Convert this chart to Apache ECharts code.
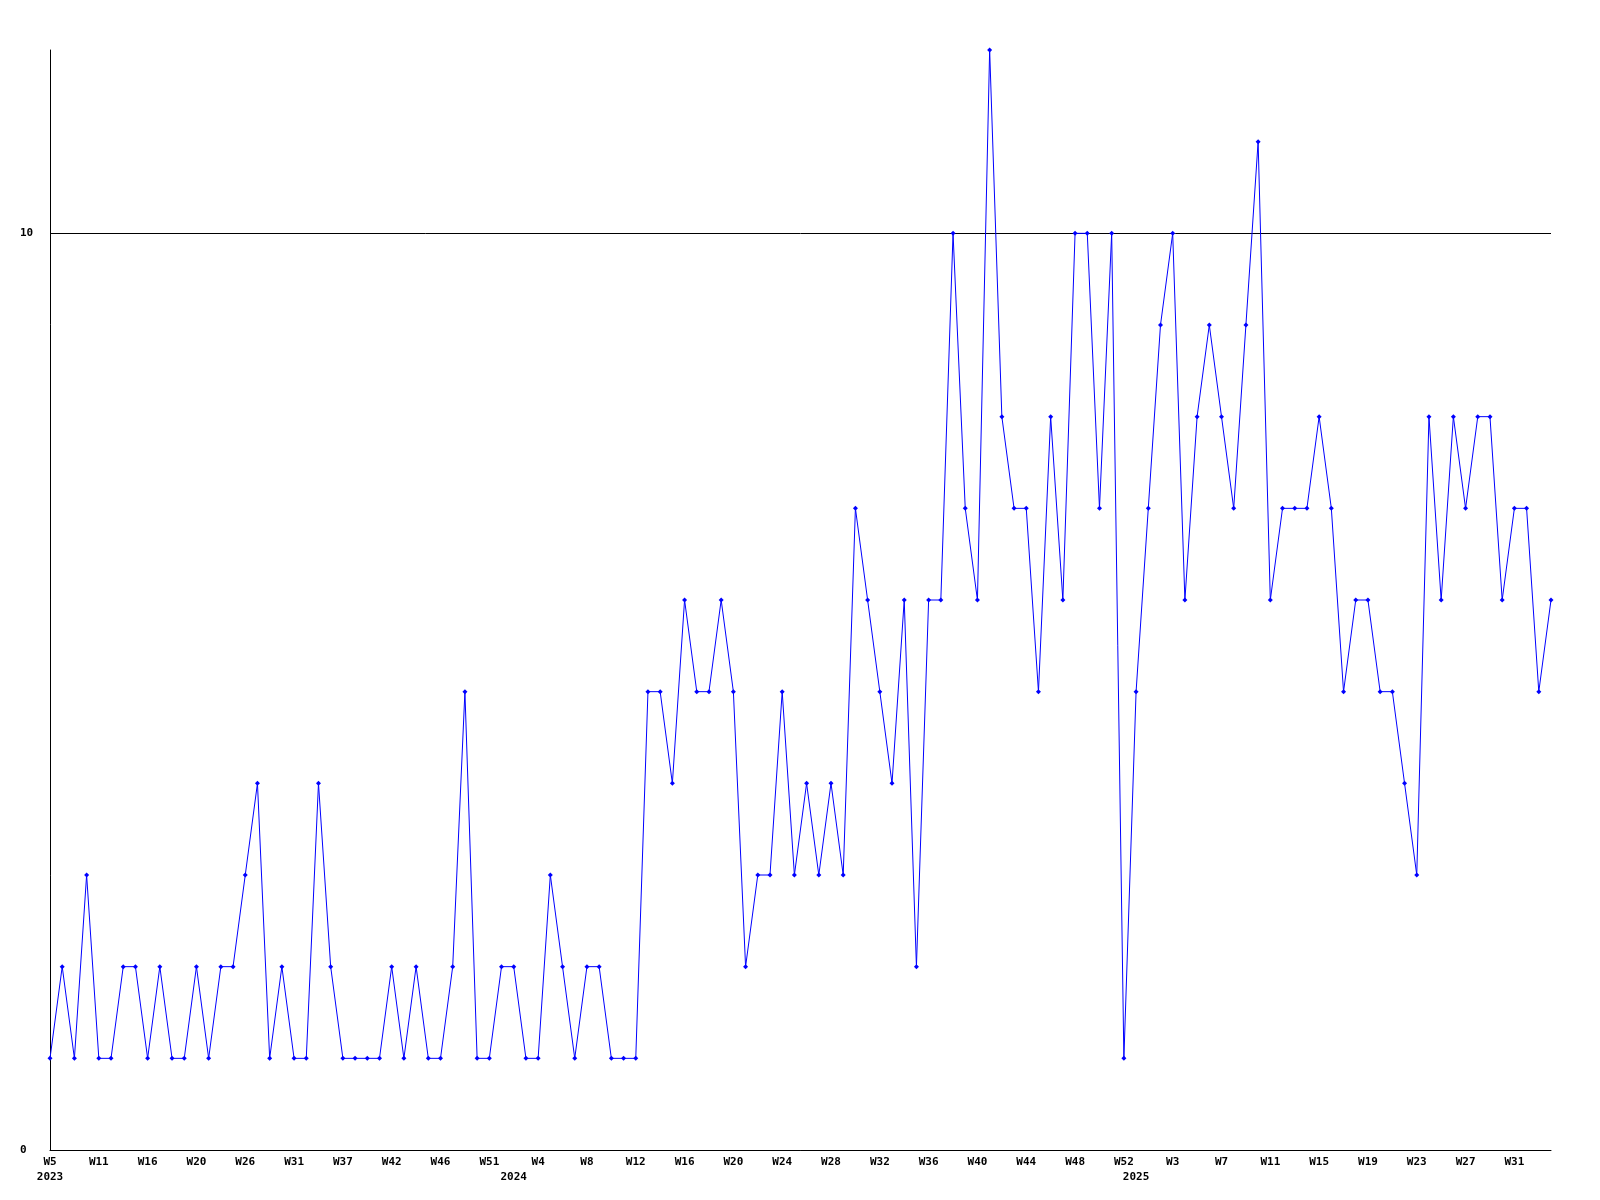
<!DOCTYPE html>
<html>
<head>
<meta charset="utf-8">
<script src="https://cdn.jsdelivr.net/npm/echarts@6/dist/echarts.min.js"></script>
<style>
html,body{margin:0;padding:0;background:#fff;}
#chart{width:1600px;height:1200px;}
</style>
</head>
<body>
<div id="chart"></div>
<script>
// Tick labels shown every 4th point on the x axis
const tickLabels = ['W5','W11','W16','W20','W26','W31','W37','W42','W46','W51',
  'W4','W8','W12','W16','W20','W24','W28','W32','W36','W40','W44','W48','W52',
  'W3','W7','W11','W15','W19','W23','W27','W31'];
// Year labels: point index where each year starts
const yearIndex = [0, 38, 89];
const yearLabels = ['2023', '2024', '2025'];
// Series values (one per week point)
const values = [
  1,2,1,3,1,1,2,2,1,2,1,1,2,1,2,2,3,4,1,2,1,1,4,2,1,1,1,1,2,1,2,1,1,
  2,5,1,1,2,2,1,1,3,2,1,2,2,1,1,1,5,5,4,6,5,5,6,5,2,3,3,5,3,4,3,4,
  3,7,6,5,4,6,2,6,6,10,7,6,12,8,7,7,5,8,6,10,10,7,10,
  1,5,7,9,10,6,8,9,8,7,9,11,6,7,7,7,8,7,5,6,6,5,5,4,3,8,6,8,7,8,8,6,7,7,5,6
];
const tickEvery = 4;
const categories = values.map((v, i) => (i % tickEvery === 0 ? tickLabels[i / tickEvery] : ''));

const font = {fontFamily: 'DejaVu Sans Mono', fontWeight: 'bold', fontSize: 11, color: '#000'};

const chart = echarts.init(document.getElementById('chart'), null, {renderer: 'canvas'});
chart.setOption({
  backgroundColor: '#ffffff',
  animation: false,
  grid: {left: 50, right: 49, top: 50, bottom: 50, containLabel: false},
  xAxis: [
    {
      type: 'category',
      data: categories,
      boundaryGap: false,
      position: 'bottom',
      axisLine: {show: true, lineStyle: {color: '#000', width: 1}},
      axisTick: {show: false},
      splitLine: {show: false},
      axisLabel: Object.assign({
        interval: (i) => i % tickEvery === 0,
        margin: 7,
        formatter: (v) => v
      }, font)
    },
    {
      type: 'category',
      data: categories,
      boundaryGap: false,
      position: 'bottom',
      offset: 0,
      axisLine: {show: false},
      axisTick: {show: false},
      splitLine: {show: false},
      axisLabel: Object.assign({
        interval: (i) => yearIndex.indexOf(i) >= 0,
        margin: 22,
        formatter: (v, i) => yearLabels[yearIndex.indexOf(i)] || ''
      }, font)
    }
  ],
  yAxis: {
    type: 'value',
    min: 0,
    max: 12,
    interval: 10,
    axisLine: {show: true, lineStyle: {color: '#000', width: 1}},
    axisTick: {show: false},
    splitLine: {show: true, showMaxLine: false, lineStyle: {color: '#000', width: 1}},
    axisLabel: Object.assign({align: 'left', margin: 30, showMaxLabel: false}, font)
  },
  series: [{
    type: 'line',
    xAxisIndex: 0,
    data: values,
    symbol: 'diamond',
    symbolSize: 5,
    showAllSymbol: true,
    lineStyle: {color: '#0000ff', width: 1},
    itemStyle: {color: '#0000ff'},
    emphasis: {disabled: true}
  }]
});
</script>
</body>
</html>
